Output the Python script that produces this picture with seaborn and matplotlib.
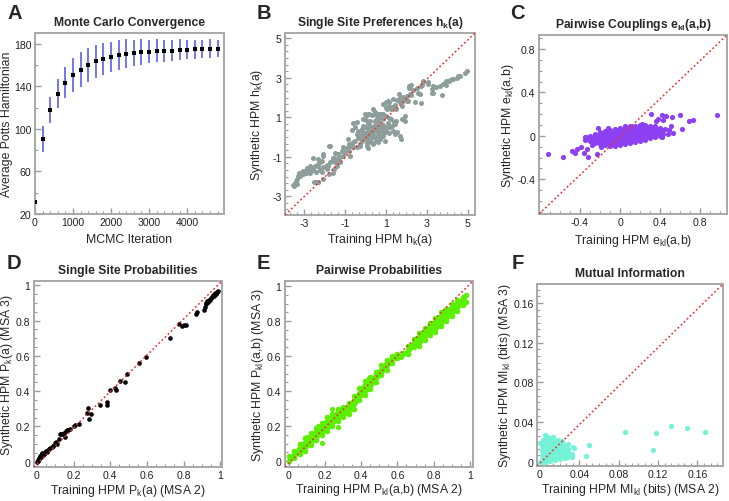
import matplotlib
matplotlib.use('Agg')
import matplotlib.pyplot as plt
import seaborn as sns
from matplotlib.ticker import MultipleLocator, FuncFormatter

# ---- A: Monte Carlo convergence ----
mcmc_iter = [0, 200, 400, 600, 800, 1000, 1200, 1400, 1600, 1800, 2000, 2200, 2400,
             2600, 2800, 3000, 3200, 3400, 3600, 3800, 4000, 4200, 4400, 4600, 4800]
mean_H = [30.9, 90.5, 117.6, 133.0, 143.3, 150.7, 155.7, 160.0, 163.4, 165.4, 167.5, 169.4, 170.4,
          171.3, 172.3, 172.6, 173.5, 173.5, 173.5, 174.1, 174.5, 174.8, 174.8, 175.4, 175.4]
err_H = [0.0, 12.0, 12.3, 13.5, 14.7, 15.7, 16.3, 16.0, 15.7, 15.0, 14.5, 13.7, 13.6,
         12.5, 12.2, 11.0, 11.2, 10.3, 10.0, 9.8, 9.0, 9.0, 8.7, 8.7, 8.1]

# ---- B: single site preferences h_k(a) ----
h_train = [-3.49, -3.44, -3.39, -3.33, -3.23, -3.20, -3.11, -3.03, -2.95, -2.90,
           -2.79, -2.71, -2.58, -2.41, -2.30, -2.22, -2.14, -2.06, -1.89, -1.86,
           -3.52, -3.36, -3.28, -3.11, -3.03, -2.92, -2.87, -2.76, -2.71, -2.63,
           -2.55, -2.47, -2.34, -2.30, -2.22, -2.11, -2.06, -2.06, -1.85, -1.73,
           -2.50, -2.30, -2.41, -2.30, -2.06, -1.76, -1.57, -1.53, -1.40, -1.49,
           -1.76, -1.73, -1.65, -1.60, -1.52, -1.49, -1.40, -1.32, -1.32, -1.24,
           -1.24, -1.16, -1.11, -1.08, -1.03, -1.00, -0.92, -0.91, -0.86, -0.80,
           -0.78, -0.75, -0.75, -0.67, -0.67, -0.59, -0.59, -0.51, -0.51, -0.43,
           -0.43, -0.43, -0.35, -0.37, -0.26, -0.26, -0.18, -0.18, -0.15, -0.12,
           -0.10, -0.07, -0.05, -0.04, -0.04, 0.03, 0.04, 0.06, 0.06, 0.06,
           0.12, 0.12, 0.12, 0.14, 0.14, 0.19, 0.21, 0.23, 0.26, 0.31,
           0.32, 0.34, 0.36, 0.37, 0.39, 0.39, 0.42, 0.42, 0.47, 0.48,
           0.48, 0.53, 0.55, 0.55, 0.58, 0.61, 0.63, 0.65, 0.67, 0.71,
           0.71, 0.78, 0.78, 0.80, 0.80, 0.86, 0.86, 0.88, 0.88, 0.91,
           0.94, 0.96, 1.02, 1.02, 1.02, 1.04, 1.04, 1.04, 1.12, 1.14,
           1.16, 1.17, 1.17, 1.18, 1.27, 1.27, 1.28, 1.28, 1.33, 1.37,
           1.40, 1.43, 1.45, 1.45, 1.52, 1.52, 1.53, 1.53, 1.63, 1.66,
           1.69, 1.69, 1.72, 1.77, 1.77, 1.77, 1.85, 1.93, 1.93, 1.96,
           2.02, 2.02, 2.06, 2.13, 2.15, 2.18, 2.18, 2.21, 2.23, 2.34,
           2.42, 2.50, 2.59, 2.67, 2.70, 2.72, 2.75, 2.80, 2.83, 3.07,
           3.08, 3.24, 3.25, 3.29, 3.32, 3.45, 3.65, 3.77, 3.81, 3.93,
           3.94, 4.10, 4.14, 4.25, 4.26, 4.46, 4.51, 4.62, 4.87, 4.95,
           0.20, 0.30, 0.50, 0.60, 0.70, 0.90, 0.10, 0.45, 0.75, 0.25,
           -0.30, -0.60, 0.00, 0.35, 0.85, 1.10, 0.60, 0.15, -0.20, 0.50]
h_synth = [-2.46, -2.33, -2.21, -2.12, -1.82, -1.95, -1.78, -1.87, -1.70, -1.82,
           -1.75, -1.82, -1.65, -1.75, -1.45, -1.65, -1.78, -1.53, -1.62, -1.41,
           -2.44, -2.39, -1.97, -1.88, -1.71, -1.80, -1.59, -1.71, -1.46, -1.63,
           -1.04, -1.46, -1.38, -1.12, -1.29, -1.21, -0.95, -0.87, -1.46, -1.29,
           -2.27, -2.27, -2.29, -2.26, -2.12, -1.87, -1.80, -1.62, -1.45, -1.28,
           -0.43, -0.44, -1.21, -1.08, -1.04, -0.79, -1.11, -0.87, -0.86, -1.03,
           -1.24, -0.70, -0.94, -0.53, -0.79, -0.77, -0.64, -0.58, -0.10, -0.36,
           -0.69, -0.43, -0.94, -0.44, 0.38, -0.52, 0.71, -0.19, 0.49, -0.53,
           0.75, 0.15, -0.01, 0.32, -0.36, -0.43, -0.18, 0.40, 0.32, 0.57,
           0.92, 0.07, -0.10, 0.49, 1.16, 0.88, 1.11, 1.13, -0.10, -0.44,
           1.16, 0.40, 0.66, 0.24, 0.06, 1.17, 0.83, -0.19, -0.27, 1.12,
           0.49, 0.27, -0.01, 1.42, 0.32, -0.36, 1.17, 0.32, -0.02, 1.25,
           0.83, 0.57, 1.08, 0.32, 0.07, 1.16, -0.27, 0.94, 0.20, 1.17,
           -0.10, 1.16, 0.66, 0.41, 0.32, 1.67, 0.91, 1.17, 0.06, 1.68,
           0.40, -0.19, 1.79, 1.45, 1.08, 1.42, 0.49, 0.24, 1.84, 1.79,
           0.20, 1.59, 0.95, 0.49, 1.42, 0.91, 1.51, 0.58, 0.32, 1.93,
           0.74, 1.62, 0.15, 0.66, 1.42, 0.83, 1.89, 0.24, 1.84, 2.18,
           0.06, 1.96, -0.12, 1.79, 1.58, 0.91, 2.01, 1.93, 0.83, 1.04,
           2.10, 1.84, 1.84, 2.46, 2.57, 2.18, 2.59, 2.64, 2.13, 2.40,
           1.75, 2.47, 2.25, 2.17, 2.60, 1.71, 2.63, 2.86, 2.80, 2.77,
           2.68, 2.25, 2.43, 2.23, 2.56, 2.52, 2.57, 2.13, 2.69, 2.64,
           2.86, 2.86, 2.91, 2.94, 2.94, 2.97, 3.11, 3.11, 3.24, 3.36,
           0.10, 0.00, -0.20, 0.40, 0.55, 0.20, -0.30, 0.60, 0.00, 0.55,
           -0.05, -0.25, 0.20, 0.10, 0.60, 0.70, 0.80, -0.55, 0.10, 0.85]

# ---- C: pairwise couplings e_kl(a,b) ----
# dense core envelope
e_core_x = [-0.35, -0.30, -0.25, -0.20, -0.15, -0.10, -0.05, 0.00, 0.05,
            0.10, 0.15, 0.20, 0.25, 0.30, 0.35, 0.40, 0.43]
e_core_hi = [-0.01, 0.00, 0.02, 0.035, 0.045, 0.05, 0.06, 0.07, 0.08,
             0.09, 0.095, 0.10, 0.10, 0.095, 0.09, 0.075, 0.05]
e_core_lo = [-0.04, -0.05, -0.065, -0.075, -0.085, -0.09, -0.09, -0.085, -0.075,
             -0.065, -0.055, -0.045, -0.035, -0.02, -0.01, 0.00, 0.02]
# scattered couplings outside the core
e_train = [-0.72, -0.575, -0.48, -0.45, -0.43, -0.39, -0.36, -0.32, -0.33, -0.34, -0.23,
           -0.22, -0.19, 0.31, 0.36, 0.38, 0.42, 0.43, 0.46, 0.52, 0.60, 0.73,
           0.97, 0.62, 0.51, 0.49, 0.53, 0.48, 0.45, 0.40, 0.42, 0.38, 0.69,
           -0.28, -0.12, 0.05, 0.22, 0.33]
e_synth = [-0.17, -0.19, -0.14, -0.16, -0.12, -0.105, -0.16, -0.19, -0.12, -0.01, -0.17,
           0.07, -0.10, 0.20, 0.14, 0.16, 0.19, 0.15, 0.18, 0.17, 0.19, 0.15,
           0.19, 0.065, 0.09, 0.05, 0.03, 0.02, 0.065, 0.02, -0.01, 0.04, 0.14,
           -0.08, 0.07, 0.09, 0.11, 0.08]

# ---- D: single site probabilities ----
p1_train = [0.0, 0.005, 0.008, 0.01, 0.012, 0.015, 0.018, 0.02, 0.022, 0.025,
            0.028, 0.03, 0.033, 0.035, 0.04, 0.042, 0.045, 0.05, 0.055, 0.06,
            0.065, 0.07, 0.08, 0.085, 0.09, 0.10, 0.105, 0.11, 0.12, 0.125,
            0.13, 0.14, 0.15, 0.155, 0.16, 0.165, 0.17, 0.18, 0.20, 0.21,
            0.23, 0.274, 0.28, 0.285, 0.297, 0.343, 0.38, 0.38, 0.398, 0.425,
            0.43, 0.456, 0.48, 0.49, 0.558, 0.595, 0.726, 0.777, 0.79, 0.814,
            0.805, 0.869, 0.875, 0.912, 0.915, 0.92, 0.925, 0.93, 0.935, 0.94,
            0.945, 0.95, 0.955, 0.96, 0.965, 0.97, 0.975, 0.98, 0.985, 0.99]
p1_synth = [0.0, 0.01, 0.005, 0.02, 0.015, 0.03, 0.02, 0.04, 0.03, 0.05,
            0.035, 0.045, 0.04, 0.05, 0.045, 0.055, 0.05, 0.06, 0.055, 0.065,
            0.07, 0.075, 0.085, 0.09, 0.09, 0.105, 0.11, 0.10, 0.13, 0.155,
            0.16, 0.155, 0.165, 0.14, 0.175, 0.18, 0.18, 0.185, 0.20, 0.21,
            0.215, 0.279, 0.307, 0.245, 0.269, 0.32, 0.32, 0.34, 0.408, 0.416,
            0.408, 0.455, 0.45, 0.50, 0.558, 0.592, 0.70, 0.782, 0.767, 0.776,
            0.775, 0.839, 0.848, 0.858, 0.88, 0.90, 0.895, 0.91, 0.905, 0.92,
            0.915, 0.93, 0.935, 0.945, 0.94, 0.955, 0.95, 0.965, 0.96, 0.97]

# ---- E: pairwise probabilities (dense band envelope + stray points) ----
p2_x = [0.0, 0.03, 0.06, 0.09, 0.12, 0.15, 0.18, 0.21, 0.24, 0.27, 0.30, 0.33,
        0.36, 0.39, 0.42, 0.45, 0.48, 0.51, 0.54, 0.57, 0.60, 0.63, 0.66, 0.69,
        0.72, 0.75, 0.78, 0.81, 0.84, 0.87, 0.90, 0.93, 0.96, 0.98]
p2_lo = [0.0, 0.02, 0.04, 0.06, 0.09, 0.12, 0.15, 0.17, 0.20, 0.23, 0.25, 0.27,
         0.30, 0.35, 0.38, 0.41, 0.45, 0.49, 0.52, 0.56, 0.59, 0.61, 0.61, 0.65,
         0.66, 0.69, 0.72, 0.74, 0.77, 0.80, 0.83, 0.86, 0.89, 0.91]
p2_hi = [0.03, 0.06, 0.10, 0.13, 0.16, 0.19, 0.22, 0.25, 0.27, 0.30, 0.31, 0.33,
         0.37, 0.42, 0.46, 0.48, 0.51, 0.55, 0.58, 0.60, 0.61, 0.62, 0.66, 0.70,
         0.73, 0.76, 0.79, 0.82, 0.85, 0.87, 0.90, 0.92, 0.94, 0.95]
p2_train = [0.16, 0.18, 0.208, 0.272, 0.10, 0.14, 0.44, 0.60, 0.62, 0.66, 0.68, 0.06, 0.24, 0.35]
p2_synth = [0.20, 0.106, 0.25, 0.193, 0.14, 0.12, 0.475, 0.61, 0.595, 0.62, 0.65, 0.10, 0.30, 0.30]

# ---- F: mutual information ----
mi_core_x = [0.0, 0.003, 0.006, 0.010, 0.015, 0.020, 0.025, 0.029, 0.033]
mi_core_hi = [0.019, 0.022, 0.024, 0.023, 0.021, 0.020, 0.017, 0.013, 0.008]
mi_core_lo = [0.0, 0.0, 0.0, 0.001, 0.002, 0.003, 0.004, 0.005, 0.005]
mi_train = [0.0053, 0.013, 0.0287, 0.0337, 0.035, 0.047, 0.050, 0.0863, 0.115,
            0.1177, 0.1327, 0.1493, 0.1677, 0.008, 0.018, 0.022]
mi_synth = [0.0268, 0.025, 0.018, 0.015, 0.014, 0.006, 0.017, 0.030, 0.0117,
            0.0295, 0.0358, 0.034, 0.0299, 0.025, 0.022, 0.021]

sns.set_style('ticks')
plt.rcParams['font.family'] = ['Liberation Sans', 'DejaVu Sans']
plt.rcParams['mathtext.fontset'] = 'custom'
plt.rcParams['mathtext.rm'] = 'Liberation Sans'
plt.rcParams['mathtext.it'] = 'Liberation Sans:italic'
plt.rcParams['mathtext.bf'] = 'Liberation Sans:bold'

W, H = 729, 502
fig = plt.figure(figsize=(W / 100, H / 100), dpi=100)


def panel(l, t, r, b):
    ax = fig.add_axes([l / W, 1 - b / H, (r - l) / W, (b - t) / H])
    ax.box_px = (l, t, r, b)
    return ax


fmt = FuncFormatter(lambda v, p: f'{round(v, 6):g}')


def style(ax, title, xlabel, ylabel, xlim, ylim, xticks, yticks, xminor, yminor,
          xlab_y, ylab_x, diag=True):
    ax.set_xlim(*xlim)
    ax.set_ylim(*ylim)
    ax.set_xticks(xticks)
    ax.set_yticks(yticks)
    ax.xaxis.set_minor_locator(MultipleLocator(xminor))
    ax.yaxis.set_minor_locator(MultipleLocator(yminor))
    ax.xaxis.set_major_formatter(fmt)
    ax.yaxis.set_major_formatter(fmt)
    ax.tick_params(which='both', direction='in', color='#9a9a9a', labelsize=7.6,
                   labelcolor='#222222', pad=2.5)
    ax.tick_params(which='major', length=4.5, width=1)
    ax.tick_params(which='minor', length=2.5, width=0.8)
    for s in ax.spines.values():
        s.set_color('#a8a8a8')
        s.set_linewidth(1.4)
    ax.set_title(title, fontsize=8.7, fontweight='bold', pad=6)
    ax.set_xlabel(xlabel, fontsize=8.8)
    ax.set_ylabel(ylabel, fontsize=8.8)
    l, t, r, b = ax.box_px
    ax.xaxis.label.set_va('center')
    ax.yaxis.label.set_va('center')
    ax.xaxis.set_label_coords(0.5, (b - xlab_y) / (b - t))
    ax.yaxis.set_label_coords((ylab_x - l) / (r - l), 0.5)
    if diag:
        ax.plot([0, 1], [0, 1], transform=ax.transAxes, color='#e8302e',
                ls=(0, (1.2, 1.6)), lw=1.1, zorder=3)


# A
ax = panel(35, 34, 224, 215)
lo = [m - e for m, e in zip(mean_H, err_H)]
hi = [m + e for m, e in zip(mean_H, err_H)]
ax.vlines(mcmc_iter, lo, hi, color='#6a6ae6', lw=1.3, zorder=2)
sns.scatterplot(x=mcmc_iter, y=mean_H, ax=ax, color='black', s=11, marker='s',
                linewidth=0, zorder=3)
style(ax, 'Monte Carlo Convergence', 'MCMC Iteration', 'Average Potts Hamiltonian',
      (0, 4970), (20, 190), [0, 1000, 2000, 3000, 4000], [20, 60, 100, 140, 180], 200, 20,
      240, 7, diag=False)

# B
ax = panel(285, 34, 475, 216)
sns.scatterplot(x=h_train, y=h_synth, ax=ax, color='#8d9d9a', s=13, linewidth=0, zorder=2)
style(ax, r'Single Site Preferences h$_\mathbf{k}$(a)', r'Training HPM h$_\mathrm{k}$(a)',
      r'Synthetic HPM h$_\mathrm{k}$(a)', (-3.93, 5.36), (-3.95, 5.27),
      [-3, -1, 1, 3, 5], [-3, -1, 1, 3, 5], 1 / 3, 1 / 3, 240, 257)

# C
ax = panel(539, 36, 727, 215)
purple = '#8c40f2'
ax.fill_between(e_core_x, e_core_lo, e_core_hi, color=purple, linewidth=0, zorder=2)
sns.scatterplot(x=e_core_x + e_core_x, y=e_core_lo + e_core_hi, ax=ax, color=purple,
                s=14, linewidth=0, zorder=2)
sns.scatterplot(x=e_train, y=e_synth, ax=ax, color=purple, s=14, linewidth=0, zorder=2)
style(ax, r'Pairwise Couplings e$_\mathbf{kl}$(a,b)', r'Training HPM e$_\mathrm{kl}$(a,b)',
      r'Synthetic HPM e$_\mathrm{kl}$(a,b)', (-0.81, 1.07), (-0.72, 0.93),
      [-0.4, 0, 0.4, 0.8], [-0.4, 0, 0.4, 0.8], 0.1, 0.1, 241, 508)

# D
ax = panel(34, 282, 222, 468)
sns.scatterplot(x=p1_train, y=p1_synth, ax=ax, color='black', s=11, linewidth=0, zorder=2)
style(ax, 'Single Site Probabilities', r'Training HPM P$_\mathrm{k}$(a) (MSA 2)',
      r'Synthetic HPM P$_\mathrm{k}$(a) (MSA 3)', (-0.016, 1.01), (-0.03, 1.025),
      [0, 0.2, 0.4, 0.6, 0.8, 1], [0, 0.2, 0.4, 0.6, 0.8, 1], 0.05, 0.05, 491, 7)

# E
ax = panel(285, 282, 473, 468)
green = '#5af000'
ax.fill_between(p2_x, p2_lo, p2_hi, color=green, linewidth=0, zorder=2)
sns.scatterplot(x=p2_x + p2_x, y=p2_lo + p2_hi, ax=ax, color=green, s=16, linewidth=0, zorder=2)
sns.scatterplot(x=p2_train, y=p2_synth, ax=ax, color=green, s=14, linewidth=0, zorder=2)
style(ax, 'Pairwise Probabilities', r'Training HPM P$_\mathrm{kl}$(a,b) (MSA 2)',
      r'Synthetic HPM P$_\mathrm{kl}$(a,b) (MSA 3)', (-0.022, 1.018), (-0.034, 1.03),
      [0, 0.2, 0.4, 0.6, 0.8, 1], [0, 0.2, 0.4, 0.6, 0.8, 1], 0.05, 0.05, 490, 258)

# F
ax = panel(537, 285, 723, 467)
aqua = '#74f2d8'
ax.fill_between(mi_core_x, mi_core_lo, mi_core_hi, color=aqua, linewidth=0, zorder=2)
sns.scatterplot(x=mi_core_x + mi_core_x, y=mi_core_lo + mi_core_hi, ax=ax, color=aqua,
                s=14, linewidth=0, zorder=2)
sns.scatterplot(x=mi_train, y=mi_synth, ax=ax, color=aqua, s=14, linewidth=0, zorder=2)
style(ax, 'Mutual Information', r'Training HPM MI$_\mathrm{kl}$ (bits) (MSA 2)',
      r'Synthetic HPM MI$_\mathrm{kl}$ (bits) (MSA 3)', (-0.003, 0.186), (-0.004, 0.179),
      [0, 0.04, 0.08, 0.12, 0.16], [0, 0.04, 0.08, 0.12, 0.16], 0.04 / 6, 0.04 / 6,
      490, 505)

for letter, x, y in [('A', 7, 4), ('B', 257, 4), ('C', 510, 4),
                     ('D', 7, 254), ('E', 257, 254), ('F', 512, 254)]:
    fig.text(x / W, 1 - y / H, letter, fontsize=14.5, fontweight='bold', va='top', ha='left')

fig.savefig('out.png', dpi=100)
